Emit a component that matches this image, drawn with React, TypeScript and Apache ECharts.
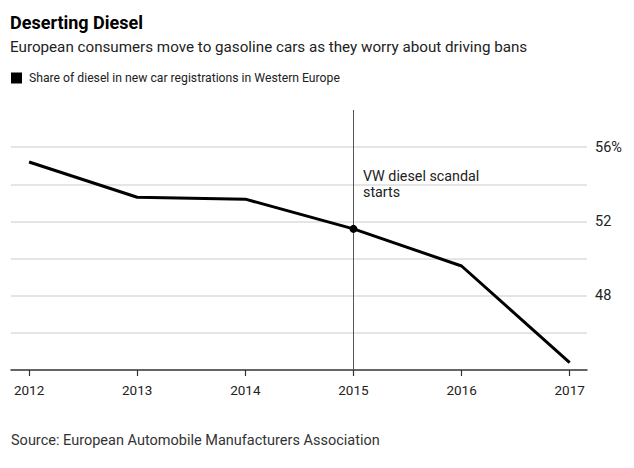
import React, { useEffect, useRef } from "react";
import * as echarts from "echarts";

const years = [2012, 2013, 2014, 2015, 2016, 2017];
const dieselShare = [55.2, 53.3, 53.2, 51.6, 49.6, 44.4];
const gridValues = [46, 48, 50, 52, 54, 56];
const yLabelValues = [48, 52, 56];
const eventYear = 2015;
const seriesName = "Share of diesel in new car registrations in Western Europe";
const titleText = "Deserting Diesel";
const subtitleText = "European consumers move to gasoline cars as they worry about driving bans";
const sourceText = "Source: European Automobile Manufacturers Association";
const annotationText = "VW diesel scandal\nstarts";

const FONT = "Roboto";

export default function App() {
  const ref = useRef<HTMLDivElement>(null);
  useEffect(() => {
    if (!ref.current) return;
    const chart = echarts.init(ref.current, null, { renderer: "svg" });
    const data = years.map((y, i) =>
      y === eventYear
        ? { value: [y, dieselShare[i]], symbol: "circle", symbolSize: 8 }
        : { value: [y, dieselShare[i]] }
    );
    chart.setOption({
      animation: false,
      backgroundColor: "#fff",
      textStyle: { fontFamily: FONT },
      title: [
        {
          text: titleText,
          left: 10,
          top: 13,
          padding: 0,
          textStyle: { fontFamily: FONT, fontSize: 18, fontWeight: "bold", color: "#000" },
        },
        {
          text: subtitleText,
          left: 10,
          top: 39,
          padding: 0,
          textStyle: { fontFamily: FONT, fontSize: 15.2, fontWeight: "normal", color: "#222" },
        },
        {
          text: sourceText,
          left: 11,
          top: 433,
          padding: 0,
          textStyle: { fontFamily: FONT, fontSize: 14.5, fontWeight: "normal", color: "#333" },
        },
      ],
      legend: {
        left: 11,
        top: 72,
        padding: 0,
        icon: "rect",
        itemWidth: 11,
        itemHeight: 11,
        itemGap: 10,
        textStyle: { fontFamily: FONT, fontSize: 12.2, color: "#222", padding: [0, 0, 0, 2] },
        data: [seriesName],
      },
      grid: { left: 11, right: 47, top: 110, bottom: 98, containLabel: false },
      xAxis: {
        type: "value",
        min: 2011.833,
        max: 2017.16,
        axisLine: { show: true, lineStyle: { color: "#333", width: 1.5 } },
        axisTick: { show: true, length: 6, lineStyle: { color: "#333", width: 1.2 }, customValues: years },
        axisLabel: {
          customValues: years,
          fontFamily: FONT,
          fontSize: 13.5,
          color: "#222",
          margin: 13,
          formatter: (v: number) => String(Math.round(v)),
        },
        splitLine: { show: false },
      },
      yAxis: {
        type: "value",
        position: "right",
        min: 44,
        max: 58,
        axisLine: { show: false },
        axisTick: { show: false },
        splitLine: { show: false },
        axisLabel: {
          customValues: yLabelValues,
          fontFamily: FONT,
          fontSize: 14.5,
          color: "#222",
          margin: 8,
          formatter: (v: number) => (v === 56 ? v + "%" : String(v)),
        },
      },
      series: [
        {
          name: seriesName,
          type: "line",
          data,
          symbol: "none",
          showSymbol: true,
          itemStyle: { color: "#000" },
          lineStyle: { color: "#000", width: 3 },
          z: 5,
          markLine: {
            silent: true,
            symbol: "none",
            label: { show: false },
            z: 1,
            data: [
              ...gridValues.map((v) => ({ yAxis: v, lineStyle: { color: "#dcdcdc", width: 1.5, type: "solid" } })),
              { xAxis: eventYear, lineStyle: { color: "#555", width: 1, type: "solid" } },
            ],
          },
        },
      ],
      graphic: [
        {
          type: "text",
          left: 363,
          top: 168,
          style: {
            text: annotationText,
            fontFamily: FONT,
            fontSize: 14.3,
            lineHeight: 16,
            fill: "#222",
          },
        },
      ],
    });
    return () => chart.dispose();
  }, []);
  return <div ref={ref} style={{ position: "fixed", left: 0, top: 0, width: 634, height: 468 }} />;
}
